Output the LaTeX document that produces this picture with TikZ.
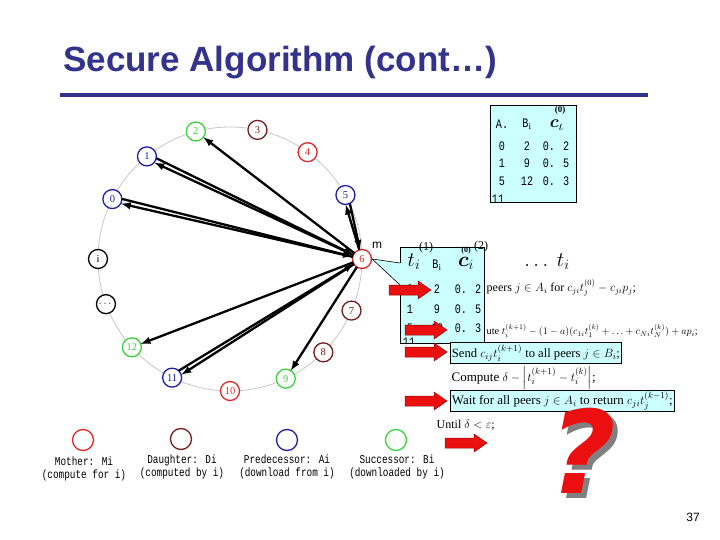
\documentclass[tikz,border=0pt]{standalone}
\usepackage{fontspec}
\usepackage{amssymb,amsmath}
\setmainfont{Liberation Serif}
\newfontfamily\titlefont{Liberation Sans}
\newfontfamily\tabfont[FakeStretch=0.78]{Liberation Mono}
\newfontfamily\qfont{DejaVu Sans}
\usetikzlibrary{arrows, calc}

\definecolor{titleblue}{RGB}{51,51,140}
\definecolor{mother}{RGB}{220,40,40}
\definecolor{daughter}{RGB}{115,30,30}
\definecolor{pred}{RGB}{30,30,170}
\definecolor{succ}{RGB}{60,210,60}
\definecolor{calloutfill}{RGB}{204,255,255}
\definecolor{arrowred}{RGB}{235,15,15}

\tikzset{
  ringnode/.style={circle, draw, line width=1.3pt, minimum size=19pt, inner sep=0pt, fill=white, font=\fontsize{10.5}{10.5}\selectfont},
  legendcirc/.style={circle, draw, line width=1.3pt, minimum size=21pt, inner sep=0pt},
  legendtxt/.style={font=\tabfont\fontsize{12}{13}\selectfont, align=center, inner sep=0pt},
  link/.style={line width=2.3pt, -latex, shorten >=9.5pt, shorten <=9.5pt},
  tablebox/.style={draw, fill=calloutfill, line width=0.8pt, inner sep=0pt},
  tabtxt/.style={font=\tabfont\fontsize{13}{13}\selectfont, inner sep=0pt},
  algtxt/.style={font=\fontsize{12}{12}\selectfont, anchor=west, inner sep=1.5pt},
  algbox/.style={algtxt, draw, fill=calloutfill, line width=0.8pt, minimum height=21pt},
  blockarrow/.pic={\filldraw[fill=arrowred, draw=arrowred!60!black, line width=0.5pt]
    (0,-5) -- (29,-5) -- (29,-9) -- (42,0) -- (29,9) -- (29,5) -- (0,5) -- cycle;}
}

\begin{document}
\begin{tikzpicture}[x=1pt,y=1pt,yscale=-1]
\useasboundingbox (0,0) rectangle (720,540);

% Title
\node[anchor=base west, inner sep=0pt, text=titleblue, font=\titlefont\bfseries\fontsize{35}{35}\selectfont] (title) at (63,72) {Secure Algorithm (cont…)};
\draw[titleblue, line width=4pt] (60,95) -- (648,95);

%Shape: ring
\coordinate (ctr) at (230,259);
\draw[black!22, line width=0.8pt] (ctr) circle (132pt);

% ring nodes
\foreach \nm/\ang/\lbl/\col in {6/0/6/mother, 5/29/5/pred, 4/54/4/mother, 3/78/3/daughter,
    2/105/2/succ, 1/129/1/pred, 0/153/0/pred, i/180/i/black, dots/200/$\cdots$/black,
    12/222/12/succ, 11/244/11/pred, 10/270/10/mother, 9/295/9/succ, 8/315/8/daughter, 7/337/7/daughter}
  \node[ringnode, draw=\col, text=\col] (n\nm) at ($(ctr)+(-\ang:132)$) {\lbl};

% links to successors
\draw[link] (n6.center) -- (n2.center);
\draw[link] (n6.center) -- (n12.center);
\draw[link] (n6.center) -- (n9.center);
% links to and from predecessors
\foreach \p in {1,0,5,11}{
  \draw[link] (n6.center) -- ($(n\p)!2.5pt!90:(n6)$);
  \draw[link] ($(n\p)!2.5pt!-90:(n6)$) -- (n6.center);
}

% Text Node
\node[font=\titlefont\fontsize{12}{12}\selectfont, inner sep=0pt] (mlabel) at (377,245) {m};

%Shape: table of node 6 (top)
\node[tablebox, minimum width=86pt, minimum height=97pt] (tabA) at (533,153.5) {};
\begin{scope}
\clip (tabA.south west) rectangle (tabA.north east);
\node[tabtxt] (tabAa) at (502,124) {A.};
\node[tabtxt] (tabAb) at (527,124) {B$_{\mathrm{i}}$};
\node[inner sep=0pt, font=\fontsize{19}{19}\selectfont] (tabAc) at (557,125) {$\boldsymbol{c}_{\iota}$};
\node[inner sep=0pt, font=\bfseries\fontsize{9}{9}\selectfont] (tabAcs) at (560,110) {(0)};
\node[tabtxt] at (502,146) {0}; \node[tabtxt] at (527,146) {2}; \node[tabtxt] at (556,146) {0. 2};
\node[tabtxt] at (502,163) {1}; \node[tabtxt] at (527,163) {9}; \node[tabtxt] at (556,163) {0. 5};
\node[tabtxt] at (502,181) {5}; \node[tabtxt] at (527,181) {12}; \node[tabtxt] at (556,181) {0. 3};
\node[tabtxt] at (498,199) {11};
\end{scope}

%Shape: callout table from node 6
\fill[calloutfill] (400,247) rectangle (484,343);
\fill[calloutfill] (n6.east) -- (400,263) -- (400,285) -- cycle;
\draw[line width=0.8pt] (400,263) -- (400,247) -- (484,247) -- (484,343) -- (400,343) -- (400,285);
\draw[line width=0.6pt] (400,263) -- (n6.east) -- (400,285);
\coordinate (tabBsw) at (400,343);
\coordinate (tabBne) at (484,247);
\node[inner sep=0pt, font=\fontsize{22}{22}\selectfont] (tabBt) at (414,262) {$t_i$};
\node[inner sep=0pt, font=\fontsize{12}{12}\selectfont] (tabBts) at (426,248) {(1)};
\node[tabtxt] (tabBb) at (437,265) {B$_{\mathrm{i}}$};
\node[inner sep=0pt, font=\fontsize{22}{22}\selectfont] (tabBc) at (466,263) {$\boldsymbol{c}_i$};
\node[inner sep=0pt, font=\bfseries\fontsize{8}{8}\selectfont] (tabBcg) at (466,251) {(0)};
\node[inner sep=0pt, font=\fontsize{12}{12}\selectfont] (tabBcs) at (481,247) {(2)};
\begin{scope}
\clip (tabBsw) rectangle (tabBne);
\node[tabtxt] at (410,289) {0}; \node[tabtxt] at (437,289) {2}; \node[tabtxt] at (468,289) {0. 2};
\node[tabtxt] at (410,309) {1}; \node[tabtxt] at (437,309) {9}; \node[tabtxt] at (468,309) {0. 5};
\node[tabtxt] at (410,328) {5}; \node[tabtxt] at (437,328) {12}; \node[tabtxt] at (468,328) {0. 3};
\node[tabtxt] at (409,342) {11};
\end{scope}

% algorithm lines
\node[inner sep=0pt, font=\fontsize{21}{21}\selectfont] (tdots) at (547,262) {$\ldots\ t_i$};
\node[algtxt] (alg1) at (485,288) {peers $j\in A_i$ for $c_{ji}t_j^{(0)} - c_{ji}p_j$;};
\node[algtxt, font=\fontsize{10.3}{10.3}\selectfont] (alg2) at (485,331) {ute $t_i^{(k+1)} - (1-a)(c_{1i}t_1^{(k)}+\ldots+c_{Ni}t_N^{(k)})+ap_i$;};
\node[algbox, font=\fontsize{12.6}{12.6}\selectfont] (alg3) at (450,353) {Send $c_{ij}t_i^{(k+1)}$ to all peers $j\in B_i$;};
\node[algtxt, font=\fontsize{13}{13}\selectfont] (alg4) at (450,378) {Compute $\delta - \left|t_i^{(k+1)} - t_i^{(k)}\right|$;};
\node[algbox, font=\fontsize{12.9}{12.9}\selectfont] (alg5) at (450,401) {Wait for all peers $j\in A_i$ to return $c_{ji}t_j^{(k-1)}$;};
\node[algtxt] (alg6) at (435,425) {Until $\delta<\varepsilon$;};

% red arrows
\pic (ra1) at (389,290) {blockarrow};
\pic (ra2) at (405,330) {blockarrow};
\pic (ra3) at (405,352) {blockarrow};
\pic (ra4) at (405,401) {blockarrow};
\pic (ra5) at (445,443) {blockarrow};

% question mark
\node[text=black!50, font=\qfont\bfseries\itshape\fontsize{115}{115}\selectfont, inner sep=0pt] (qshadow) at (588,456) {?};
\node[text=arrowred, font=\qfont\bfseries\itshape\fontsize{115}{115}\selectfont, inner sep=0pt] (qmark) at (583,451) {?};

% legend
\node[legendcirc, draw=mother] (lgM) at (83,440) {};
\node[legendcirc, draw=daughter] (lgD) at (181,439) {};
\node[legendcirc, draw=pred] (lgA) at (287,440) {};
\node[legendcirc, draw=succ] (lgB) at (396,440) {};
\node[legendtxt] (lgMt) at (84,469) {Mother: Mi\\(compute for i)};
\node[legendtxt] (lgDt) at (182,467) {Daughter: Di\\(computed by i)};
\node[legendtxt] (lgAt) at (287,467) {Predecessor: Ai\\(download from i)};
\node[legendtxt] (lgBt) at (397,467) {Successor: Bi\\(downloaded by i)};

% Text Node
\node[font=\titlefont\fontsize{12}{12}\selectfont, inner sep=0pt] (pgnum) at (693,517) {37};

\end{tikzpicture}
\end{document}
